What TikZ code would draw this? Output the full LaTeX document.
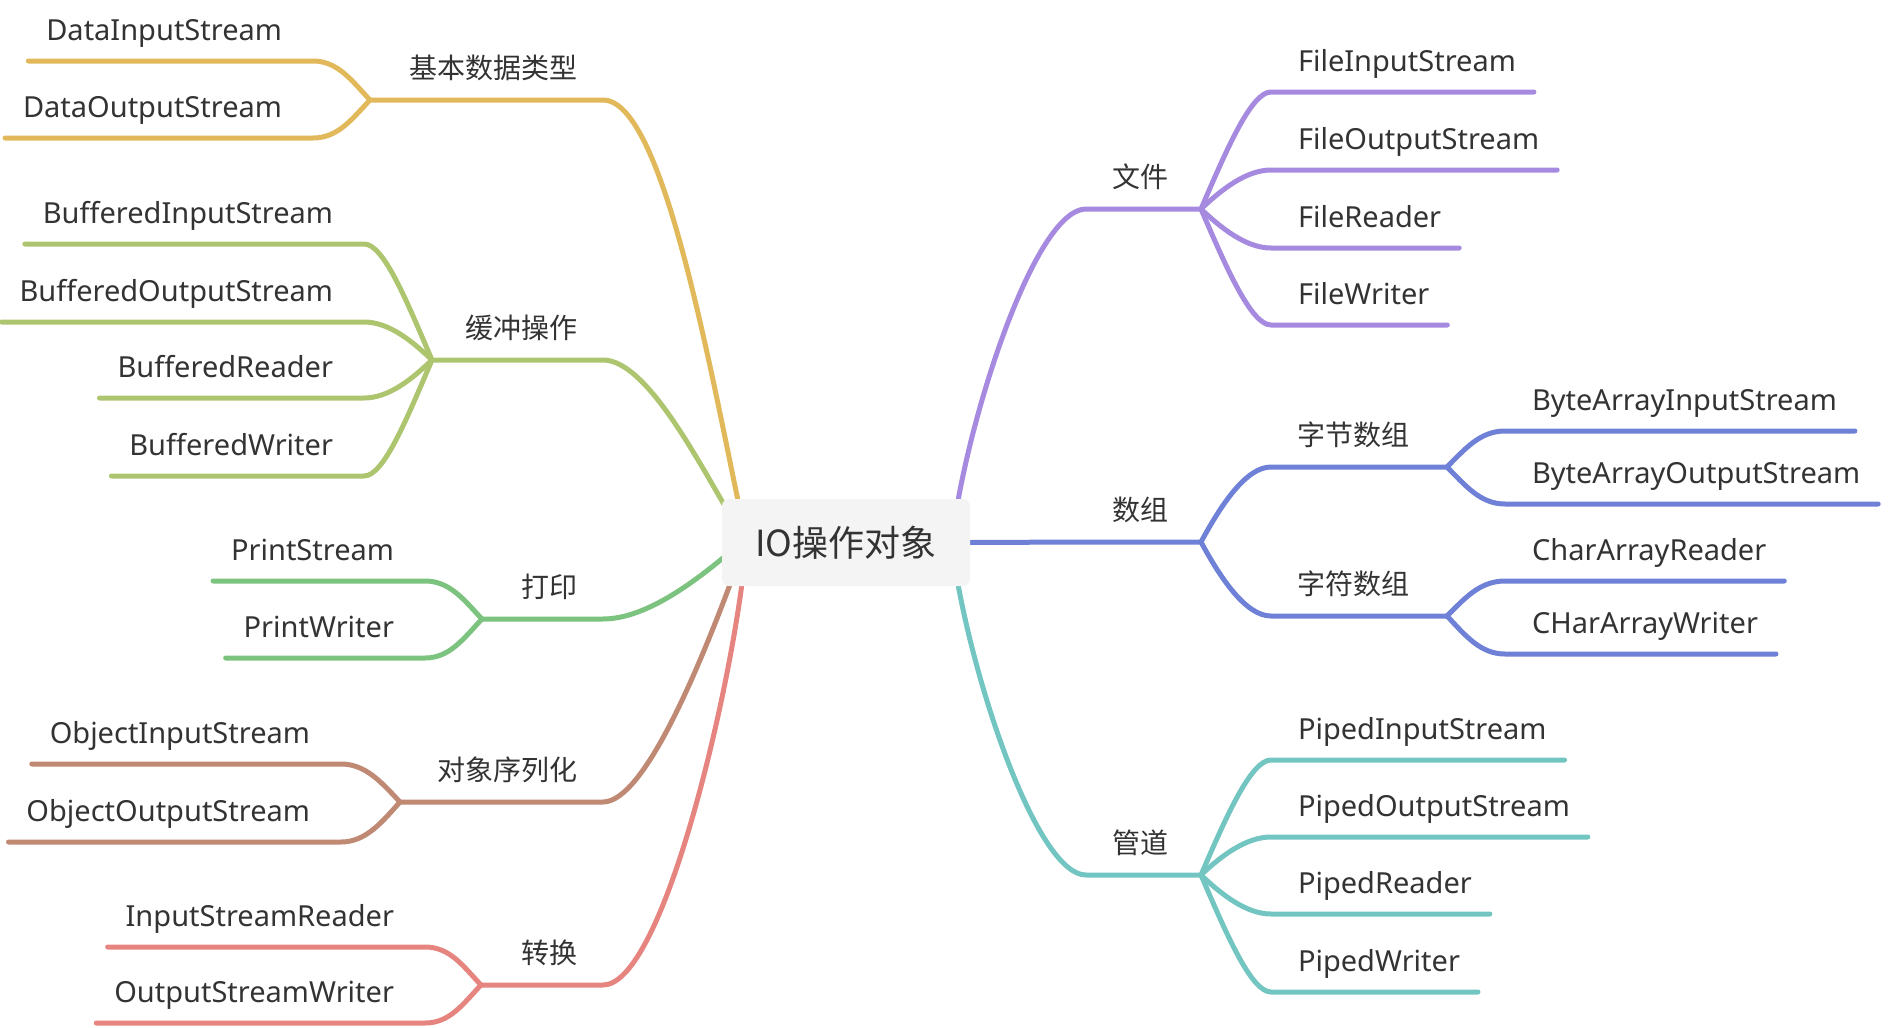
\documentclass[tikz,border=0pt]{standalone}
\usepackage{fontspec}
\setmainfont{Noto Sans}
\newfontfamily\cjkfont{Noto Sans CJK SC}
\usepackage{tikz}
\usetikzlibrary{backgrounds}

\definecolor{cyellow}{HTML}{E1B95A}
\definecolor{colive}{HTML}{AEC56F}
\definecolor{cgreen}{HTML}{7CC37F}
\definecolor{cbrown}{HTML}{C08973}
\definecolor{csalmon}{HTML}{E6847F}
\definecolor{cpurple}{HTML}{A68ADF}
\definecolor{cblue}{HTML}{6F80D7}
\definecolor{cteal}{HTML}{72C5C1}
\definecolor{rootfill}{HTML}{F4F4F4}
\definecolor{txt}{HTML}{333333}

\begin{document}
\begin{tikzpicture}[
    x=0.5pt, y=-0.5pt,
    conn/.style={line width=2.5pt, line cap=round, line join=round},
    root/.style={rectangle, rounded corners=3.5pt, fill=rootfill, minimum width=124pt, minimum height=43.5pt, inner sep=0pt, text=txt, font={\cjkfont\fontsize{18}{22}\selectfont}},
    topicl/.style={inner xsep=13pt, inner ysep=11pt, text depth=0pt, outer sep=0pt, text=txt, font={\cjkfont\fontsize{14}{17}\selectfont}, anchor=south east},
    topicr/.style={topicl, anchor=south west},
    leafl/.style={inner xsep=9pt, inner ysep=10.5pt, text depth=0pt, outer sep=0pt, text=txt, font={\fontsize{14.5}{17}\selectfont}, anchor=south east},
    leafr/.style={leafl, anchor=south west},
]
\useasboundingbox (0,0) rectangle (1892,1028);

% Root
\node[root] (root) at (846,542.5) {IO操作对象};

% Topics, left
\node[topicl] (basic) at (603,100) {基本数据类型};
\node[topicl] (buffer) at (603,360) {缓冲操作};
\node[topicl] (print) at (603,619) {打印};
\node[topicl] (serial) at (603,802) {对象序列化};
\node[topicl] (convert) at (603,985) {转换};

% Topics, right
\node[topicr] (file) at (1086,209) {文件};
\node[topicr] (array) at (1086,542) {数组};
\node[topicr] (pipe) at (1086,875) {管道};
\node[topicr] (bytes) at (1271,467) {字节数组};
\node[topicr] (chars) at (1271,616) {字符数组};

% Forks
\coordinate (fbasic) at (370,100);
\coordinate (fbuffer) at (432,360);
\coordinate (fprint) at (482,619);
\coordinate (fserial) at (400,802);
\coordinate (fconvert) at (481,985);
\coordinate (ffile) at (1201,209);
\coordinate (farray) at (1201,542);
\coordinate (fpipe) at (1201,875);
\coordinate (fbytes) at (1447,467);
\coordinate (fchars) at (1447,616);

% Leaves, left
\node[leafl] (dis) at (300,61) {DataInputStream};
\node[leafl] (dos) at (300,138) {DataOutputStream};
\node[leafl] (bis) at (351,244) {BufferedInputStream};
\node[leafl] (bos) at (351,322) {BufferedOutputStream};
\node[leafl] (brd) at (351,398) {BufferedReader};
\node[leafl] (bwr) at (351,476) {BufferedWriter};
\node[leafl] (prs) at (412,581) {PrintStream};
\node[leafl] (prw) at (412,658) {PrintWriter};
\node[leafl] (ois) at (328,764) {ObjectInputStream};
\node[leafl] (oos) at (328,842) {ObjectOutputStream};
\node[leafl] (isr) at (412,947) {InputStreamReader};
\node[leafl] (osw) at (412,1023) {OutputStreamWriter};

% Leaves, right
\node[leafr] (fis) at (1280,92) {FileInputStream};
\node[leafr] (fos) at (1280,170) {FileOutputStream};
\node[leafr] (frd) at (1280,248) {FileReader};
\node[leafr] (fwr) at (1280,325) {FileWriter};
\node[leafr] (bais) at (1514,431) {ByteArrayInputStream};
\node[leafr] (baos) at (1514,504) {ByteArrayOutputStream};
\node[leafr] (car) at (1514,581) {CharArrayReader};
\node[leafr] (caw) at (1514,654) {CHarArrayWriter};
\node[leafr] (pis) at (1280,760) {PipedInputStream};
\node[leafr] (pos) at (1280,837) {PipedOutputStream};
\node[leafr] (pir) at (1280,914) {PipedReader};
\node[leafr] (piw) at (1280,992) {PipedWriter};

\begin{scope}[on background layer]
% Root to topics
\draw[conn, cyellow] (fbasic) -- (basic.south east) .. controls +(57,0) and +(-33,-159) .. ([xshift=8pt]root.north west);
\draw[conn, colive] (fbuffer) -- (buffer.south east) .. controls +(42,0) and +(-33,-56) .. ([shift={(3pt,-6pt)}]root.north west);
\draw[conn, cgreen] (fprint) -- (print.south east) .. controls +(45,0) and +(-30,25) .. ([shift={(4pt,-5pt)}]root.west);
\draw[conn, cbrown] (fserial) -- (serial.south east) .. controls +(42,0) and +(-30,80) .. ([shift={(5pt,3pt)}]root.south west);
\draw[conn, csalmon] (fconvert) -- (convert.south east) .. controls +(57,0) and +(-18,134) .. ([xshift=10pt]root.south west);
\draw[conn, cpurple] (ffile) -- (file.south west) .. controls +(-46,0) and +(22,-119) .. ([xshift=-6pt]root.north east);
\draw[conn, cblue] (farray) -- (array.south west) -- (root.east);
\draw[conn, cteal] (fpipe) -- (pipe.south west) .. controls +(-46,0) and +(22,118) .. ([xshift=-6pt]root.south east);
\draw[conn, cblue] (fbytes) -- (bytes.south west) .. controls +(-25,0) and +(20,-37) .. (farray);
\draw[conn, cblue] (fchars) -- (chars.south west) .. controls +(-25,0) and +(20,37) .. (farray);

% Topics to leaves, left
\draw[conn, cyellow] (fbasic) .. controls +(-18,-19) and +(25,0) .. ([xshift=6.5pt]dis.south east) -- (dis.south west);
\draw[conn, cyellow] (fbasic) .. controls +(-18,19) and +(25,0) .. ([xshift=6.5pt]dos.south east) -- (dos.south west);
\draw[conn, colive] (fbuffer) .. controls +(-25,-58) and +(20,0) .. ([xshift=6.5pt]bis.south east) -- (bis.south west);
\draw[conn, colive] (fbuffer) .. controls +(-20,-19) and +(25,0) .. ([xshift=6.5pt]bos.south east) -- (bos.south west);
\draw[conn, colive] (fbuffer) .. controls +(-20,19) and +(25,0) .. ([xshift=6.5pt]brd.south east) -- (brd.south west);
\draw[conn, colive] (fbuffer) .. controls +(-25,58) and +(20,0) .. ([xshift=6.5pt]bwr.south east) -- (bwr.south west);
\draw[conn, cgreen] (fprint) .. controls +(-18,-19) and +(25,0) .. ([xshift=6.5pt]prs.south east) -- (prs.south west);
\draw[conn, cgreen] (fprint) .. controls +(-18,19) and +(25,0) .. ([xshift=6.5pt]prw.south east) -- (prw.south west);
\draw[conn, cbrown] (fserial) .. controls +(-18,-19) and +(25,0) .. ([xshift=6.5pt]ois.south east) -- (ois.south west);
\draw[conn, cbrown] (fserial) .. controls +(-18,20) and +(25,0) .. ([xshift=6.5pt]oos.south east) -- (oos.south west);
\draw[conn, csalmon] (fconvert) .. controls +(-18,-19) and +(25,0) .. ([xshift=6.5pt]isr.south east) -- (isr.south west);
\draw[conn, csalmon] (fconvert) .. controls +(-18,19) and +(25,0) .. ([xshift=6.5pt]osw.south east) -- (osw.south west);

% Topics to leaves, right
\draw[conn, cpurple] (ffile) .. controls +(25,-58) and +(-20,0) .. ([xshift=-4.5pt]fis.south west) -- (fis.south east);
\draw[conn, cpurple] (ffile) .. controls +(20,-19) and +(-25,0) .. ([xshift=-4.5pt]fos.south west) -- (fos.south east);
\draw[conn, cpurple] (ffile) .. controls +(20,19) and +(-25,0) .. ([xshift=-4.5pt]frd.south west) -- (frd.south east);
\draw[conn, cpurple] (ffile) .. controls +(25,58) and +(-20,0) .. ([xshift=-4.5pt]fwr.south west) -- (fwr.south east);
\draw[conn, cblue] (fbytes) .. controls +(18,-18) and +(-25,0) .. ([xshift=-4.5pt]bais.south west) -- (bais.south east);
\draw[conn, cblue] (fbytes) .. controls +(18,18) and +(-25,0) .. ([xshift=-4.5pt]baos.south west) -- (baos.south east);
\draw[conn, cblue] (fchars) .. controls +(18,-18) and +(-25,0) .. ([xshift=-4.5pt]car.south west) -- (car.south east);
\draw[conn, cblue] (fchars) .. controls +(18,19) and +(-25,0) .. ([xshift=-4.5pt]caw.south west) -- (caw.south east);
\draw[conn, cteal] (fpipe) .. controls +(25,-58) and +(-20,0) .. ([xshift=-4.5pt]pis.south west) -- (pis.south east);
\draw[conn, cteal] (fpipe) .. controls +(20,-19) and +(-25,0) .. ([xshift=-4.5pt]pos.south west) -- (pos.south east);
\draw[conn, cteal] (fpipe) .. controls +(20,19) and +(-25,0) .. ([xshift=-4.5pt]pir.south west) -- (pir.south east);
\draw[conn, cteal] (fpipe) .. controls +(25,58) and +(-20,0) .. ([xshift=-4.5pt]piw.south west) -- (piw.south east);
\end{scope}

\end{tikzpicture}
\end{document}
